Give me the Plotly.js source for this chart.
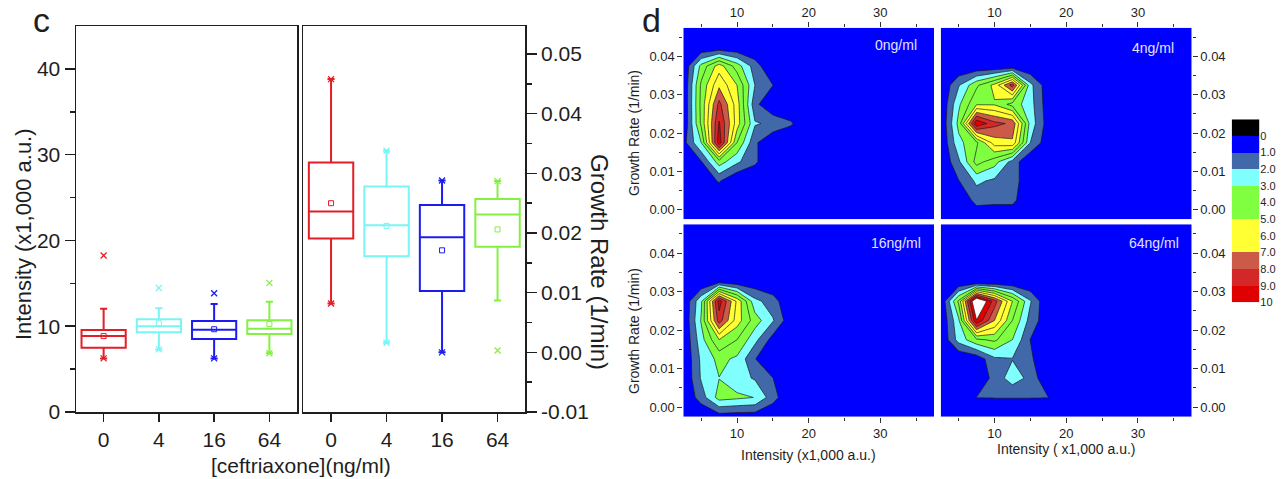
<!DOCTYPE html>
<html><head><meta charset="utf-8">
<script src="https://cdn.plot.ly/plotly-3.0.1.min.js"></script>
<style>html,body{margin:0;padding:0;background:#fff}#chart{width:1288px;height:479px}</style>
</head><body><div id="chart"></div>
<script>
// ---------------- DATA ----------------
const categories = ['0', '4', '16', '64'];
const seriesColors = ['#e41e26', '#78f5f5', '#1c1cf0', '#84f044'];

// panel c, left: intensity (x1,000 a.u.)
const intensityQ1     = [7.5, 9.3, 8.5, 9.1];
const intensityMedian = [8.85, 10.0, 9.6, 9.7];
const intensityQ3     = [9.55, 10.8, 10.6, 10.7];
const intensityLow    = [6.25, 7.3, 6.25, 6.85];
const intensityHigh   = [12.05, 12.1, 12.6, 12.85];
const intensityMean   = [8.85, 10.35, 9.65, 10.25];
const intensityMarks  = [[18.25, 6.25], [14.45, 7.3], [13.85, 6.25], [15.05, 6.85]];

// panel c, right: growth rate (1/min)
const rateQ1     = [0.0191, 0.0161, 0.0103, 0.0177];
const rateMedian = [0.0236, 0.0213, 0.0193, 0.0231];
const rateQ3     = [0.0318, 0.0278, 0.0247, 0.0257];
const rateLow    = [0.0082, 0.0016, 0.0000, 0.0087];
const rateHigh   = [0.0458, 0.0338, 0.0288, 0.0287];
const rateMean   = [0.0250, 0.0212, 0.0171, 0.0206];
const rateMarks  = [[0.0458, 0.0082], [0.0338, 0.0016], [0.0288, 0.0], [0.0287, 0.0003]];

// tick labels
const intensityTicks = [0, 10, 20, 30, 40];
const rateTicks = [-0.01, 0, 0.01, 0.02, 0.03, 0.04, 0.05];
const rateTickText = ['-0.01', '0.00', '0.01', '0.02', '0.03', '0.04', '0.05'];
const mapXTicks = [10, 20, 30];
const mapYTicks = [0, 0.01, 0.02, 0.03, 0.04];
const mapYTickText = ['0.00', '0.01', '0.02', '0.03', '0.04'];

// panel d: density maps (rows bottom -> top)
const intensityGrid = [2.5, 5, 7.5, 10, 12.5, 15, 17.5, 20, 37.5];
const rateGrid = [-0.0025, 0.0025, 0.0075, 0.0125, 0.0175, 0.0225, 0.0275, 0.0325, 0.0375, 0.0425, 0.0475];

const density0 = [
  [0, 0, 0, 0, 0, 0, 0, 0, 0],
  [0, 0, 0, 0, 0, 0, 0, 0, 0],
  [0, 0.3, 1.1, 0, 0, 0, 0, 0, 0],
  [0, 0.9, 3.5, 2.2, 1.2, 0, 0, 0, 0],
  [0.6, 3.0, 9.6, 4.0, 1.2, 0, 0, 0, 0],
  [0, 4.2, 9.1, 5.5, 2.1, 1.8, 1.15, 0, 0],
  [0, 4.3, 8.3, 5.5, 1.3, 0, 0, 0, 0],
  [0, 4.2, 6.8, 5.0, 2.0, 1.02, 0, 0, 0],
  [0, 3.3, 5.5, 3.5, 1.5, 0, 0, 0, 0],
  [0, 0, 0, 0, 0, 0, 0, 0, 0],
  [0, 0, 0, 0, 0, 0, 0, 0, 0]
];
const density4 = [
  [0, 0, 0, 0, 0, 0, 0, 0, 0],
  [0, 0, 1.4, 1.3, 1.3, 0, 0, 0, 0],
  [0, 0.95, 2.2, 1.8, 1.61, 0, 0, 0, 0],
  [0, 1.8, 4.4, 3.4, 1.61, 0, 0, 0, 0],
  [0, 2.7, 3.8, 6.5, 6.8, 2.0, 0.3, 0, 0],
  [0, 3.3, 9.9, 8.3, 7.8, 2.6, 0.5, 0, 0],
  [0, 2.8, 4.9, 4.9, 3.6, 2.4, 0.4, 0, 0],
  [0, 1.9, 3.8, 5.3, 8.5, 2.3, 0.3, 0, 0],
  [0, 0, 0, 0, 0, 0, 0, 0, 0],
  [0, 0, 0, 0, 0, 0, 0, 0, 0],
  [0, 0, 0, 0, 0, 0, 0, 0, 0]
];
const density16 = [
  [0, 0, 0.5, 0.4, 0.4, 0, 0, 0, 0],
  [0, 1.5, 3.4, 3.2, 2.98, 1.45, 0, 0, 0],
  [0, 2.1, 2.98, 2.4, 1.9, 1.02, 0, 0, 0],
  [0, 2.2, 3.3, 2.8, 1.05, 0, 0, 0, 0],
  [0, 2.6, 5.0, 4.0, 2.3, 0.6, 0, 0, 0],
  [0, 3.1, 8.5, 5.5, 3.5, 2.1, 0.3, 0, 0],
  [0, 2.8, 9.5, 5.8, 2.3, 1.5, 0, 0, 0],
  [0, 0, 0.7, 0.3, 0.3, 0, 0, 0, 0],
  [0, 0, 0, 0, 0, 0, 0, 0, 0],
  [0, 0, 0, 0, 0, 0, 0, 0, 0],
  [0, 0, 0, 0, 0, 0, 0, 0, 0]
];
const density64 = [
  [0, 0, 0, 0, 0, 0, 0, 0, 0],
  [0, 0, 1.02, 1.04, 1.04, 1.04, 1.02, 0, 0],
  [0, 0, 0, 1.4, 2.5, 1.72, 0, 0, 0],
  [0, 0, 0.3, 1.8, 1.96, 1.2, 0, 0, 0],
  [0, 2.4, 3.8, 4.2, 3.0, 0.98, 0, 0, 0],
  [0, 2.8, 9.95, 7.0, 4.0, 1.6, 0.3, 0, 0],
  [0, 4.2, 11.9, 8.5, 5.0, 2.1, 0, 0, 0],
  [0, 0, 0, 0, 0, 0, 0, 0, 0],
  [0, 0, 0, 0, 0, 0, 0, 0, 0],
  [0, 0, 0, 0, 0, 0, 0, 0, 0],
  [0, 0, 0, 0, 0, 0, 0, 0, 0]
];
const panelLabels = ['0ng/ml', '4ng/ml', '16ng/ml', '64ng/ml'];

// colour key
const bandColors = ['#0000ff', '#4169aa', '#80ffff', '#80ff40', '#80ff40', '#ffff33', '#ffff33', '#cc5a48', '#d42828', '#e00000', '#ffffff'];
const keyEdges = [-1, 0, 1, 2, 3, 4, 5, 6, 7, 8, 9, 10];
const keyBands = [0, 1, 2, 3, 4, 5, 6, 7, 8, 9, 10];
const keyColors = ['#000000', '#0000ff', '#4169aa', '#80ffff', '#80ff40', '#80ff40', '#ffff33', '#ffff33', '#cc5a48', '#d42828', '#e00000'];
const keyTicks = [0, 1, 2, 3, 4, 5, 6, 7, 8, 9, 10];
const keyTickText = ['0', '1.0', '2.0', '3.0', '4.0', '5.0', '6.0', '7.0', '8.0', '9.0', '10'];

// ---------------- LAYOUT HELPERS ----------------
const W = 1288, H = 479;
const dx = (a, b) => [a / W, b / W];
const dy = (top, bot) => [1 - bot / H, 1 - top / H];
const FONT = 'Liberation Sans, Arial, sans-serif';
const INK = '#1e1e1e';

const traces = [];

// box plots
function addBoxes(xa, ya, q1, med, q3, lo, hi, mean, marks) {
  for (let i = 0; i < categories.length; i++) {
    traces.push({
      type: 'box', xaxis: xa, yaxis: ya, x: [i],
      q1: [q1[i]], median: [med[i]], q3: [q3[i]],
      lowerfence: [lo[i]], upperfence: [hi[i]],
      width: 0.8, whiskerwidth: 0.16, boxpoints: false,
      line: { color: seriesColors[i], width: 2 },
      fillcolor: 'rgba(0,0,0,0)', hoverinfo: 'skip'
    });
    traces.push({
      type: 'scatter', mode: 'markers', xaxis: xa, yaxis: ya,
      x: [i], y: [mean[i]],
      marker: { symbol: 'square-open', size: 5, color: seriesColors[i], line: { width: 1, color: seriesColors[i] } },
      hoverinfo: 'skip'
    });
    traces.push({
      type: 'scatter', mode: 'markers', xaxis: xa, yaxis: ya,
      x: marks[i].map(() => i), y: marks[i],
      marker: { symbol: 'x-thin-open', size: 6, color: seriesColors[i], line: { width: 1.3, color: seriesColors[i] } },
      hoverinfo: 'skip'
    });
  }
}
addBoxes('x', 'y', intensityQ1, intensityMedian, intensityQ3, intensityLow, intensityHigh, intensityMean, intensityMarks);
addBoxes('x2', 'y2', rateQ1, rateMedian, rateQ3, rateLow, rateHigh, rateMean, rateMarks);

// contour maps
const contourScale = bandColors.map((c, i) => [i / 10, c]);
function addMap(z, xa, ya) {
  traces.push({
    type: 'contour', xaxis: xa, yaxis: ya,
    x: intensityGrid, y: rateGrid, z: z,
    autocontour: false,
    contours: { start: 1, end: 10, size: 1, coloring: 'fill', showlines: true },
    colorscale: contourScale, showscale: false,
    line: { color: '#1a1a1a', width: 0.7, smoothing: 0 },
    hoverinfo: 'skip'
  });
}
addMap(density0, 'x3', 'y3');
addMap(density4, 'x4', 'y4');
addMap(density16, 'x5', 'y5');
addMap(density64, 'x6', 'y6');

// colour key
traces.push({
  type: 'heatmap', xaxis: 'x7', yaxis: 'y7',
  x: [0], y: keyEdges, z: keyBands.map(v => [v]),
  zmin: 0, zmax: 10, showscale: false,
  colorscale: keyColors.map((c, i) => [i / 10, c]),
  hoverinfo: 'skip'
});

// axes
const boxX = {
  range: [-0.5, 3.5], tickvals: [0, 1, 2, 3], ticktext: categories,
  ticks: 'outside', ticklen: 8, tickwidth: 1.5, tickcolor: INK,
  showline: true, linecolor: INK, linewidth: 1.5, mirror: true,
  showgrid: false, zeroline: false, tickfont: { size: 21, color: INK, family: FONT }
};
const boxYBase = {
  ticks: 'outside', ticklen: 10, tickwidth: 1.5, tickcolor: INK,
  showline: true, linecolor: INK, linewidth: 1.5, mirror: true,
  showgrid: false, zeroline: false, tickfont: { size: 21, color: INK, family: FONT }
};
function mapX(domain, anchor, side) {
  return {
    domain, anchor, side, range: [2.5, 37.5], tickvals: mapXTicks,
    ticks: 'outside', ticklen: 5, tickwidth: 1, tickcolor: '#333',
    minor: { tickvals: [5, 15, 25, 35], ticks: 'outside', ticklen: 3, tickwidth: 1, tickcolor: '#333' },
    showline: false, showgrid: false, zeroline: false,
    tickfont: { size: 13, color: INK, family: FONT }
  };
}
function mapY(domain, anchor, side) {
  return {
    domain, anchor, side, range: [-0.0025, 0.0475], tickvals: mapYTicks, ticktext: mapYTickText,
    ticks: 'outside', ticklen: 5, tickwidth: 1, tickcolor: '#333',
    minor: { tickvals: [0.005, 0.015, 0.025, 0.035, 0.045], ticks: 'outside', ticklen: 3, tickwidth: 1, tickcolor: '#333' },
    showline: false, showgrid: false, zeroline: false,
    tickfont: { size: 13, color: INK, family: FONT }
  };
}

const boxYDom = dy(26, 412);
const mapLeft = dx(683.3, 934), mapRight = dx(940.7, 1191.7);
const mapTop = dy(27.7, 219.3), mapBot = dy(224.3, 416.7);

const layout = {
  width: W, height: H, margin: { l: 0, r: 0, t: 0, b: 0 },
  paper_bgcolor: '#ffffff', plot_bgcolor: '#ffffff',
  showlegend: false, boxmode: 'overlay',
  font: { family: FONT, color: INK },
  xaxis: Object.assign({ domain: dx(76, 297), anchor: 'y' }, boxX),
  yaxis: Object.assign({ domain: boxYDom, anchor: 'x', range: [0, 45], tickvals: intensityTicks,
    minor: { tickvals: [5, 15, 25, 35], ticks: 'outside', ticklen: 5, tickwidth: 1.5, tickcolor: INK } }, boxYBase),
  xaxis2: Object.assign({ domain: dx(303.3, 525.3), anchor: 'y2' }, boxX),
  yaxis2: Object.assign({ domain: boxYDom, anchor: 'x2', side: 'right', range: [-0.01, 0.0547],
    tickvals: rateTicks, ticktext: rateTickText,
    minor: { tickvals: [-0.005, 0.005, 0.015, 0.025, 0.035, 0.045], ticks: 'outside', ticklen: 5, tickwidth: 1.5, tickcolor: INK } }, boxYBase),
  xaxis3: mapX(mapLeft, 'y3', 'top'),
  yaxis3: mapY(mapTop, 'x3', 'left'),
  xaxis4: mapX(mapRight, 'y4', 'top'),
  yaxis4: mapY(mapTop, 'x4', 'right'),
  xaxis5: mapX(mapLeft, 'y5', 'bottom'),
  yaxis5: mapY(mapBot, 'x5', 'left'),
  xaxis6: mapX(mapRight, 'y6', 'bottom'),
  yaxis6: mapY(mapBot, 'x6', 'right'),
  xaxis7: { domain: dx(1231.7, 1259.3), anchor: 'y7', range: [-0.5, 0.5], visible: false },
  yaxis7: { domain: dy(119.3, 302.3), anchor: 'x7', side: 'right', range: [10, -1],
    tickvals: keyTicks, ticktext: keyTickText, ticks: '', showline: false, showgrid: false, zeroline: false,
    tickfont: { size: 11, color: INK, family: FONT } },
  annotations: []
};

function ann(text, x, y, size, opts) {
  layout.annotations.push(Object.assign({
    text, x: x / W, y: 1 - y / H, xref: 'paper', yref: 'paper',
    xanchor: 'center', yanchor: 'middle', showarrow: false, borderpad: 0,
    font: { size, family: FONT, color: INK }
  }, opts || {}));
}
ann('c', 41, 20, 34);
ann('d', 651, 20, 34);
ann('Intensity (x1,000 a.u.)', 23, 234, 22, { textangle: -90 });
ann('[ceftriaxone](ng/ml)', 301, 465, 21);
ann('Growth Rate (1/min)', 600, 262, 24, { textangle: 90 });
ann('Growth Rate (1/min)', 634, 133, 14, { textangle: -90 });
ann('Growth Rate (1/min)', 634, 331, 14, { textangle: -90 });
ann('Intensity (x1,000 a.u.)', 808, 455, 14);
ann('Intensity ( x1,000 a.u.)', 1066.7, 449, 14);
const labelPos = [[918, 45], [1175, 48], [921.7, 243], [1180, 243]];
panelLabels.forEach((t, i) => ann(t, labelPos[i][0], labelPos[i][1], 14,
  { xanchor: 'right', font: { size: 14, family: FONT, color: '#e2e2ff' } }));

Plotly.newPlot('chart', traces, layout, { staticPlot: true, displayModeBar: false });
</script></body></html>
